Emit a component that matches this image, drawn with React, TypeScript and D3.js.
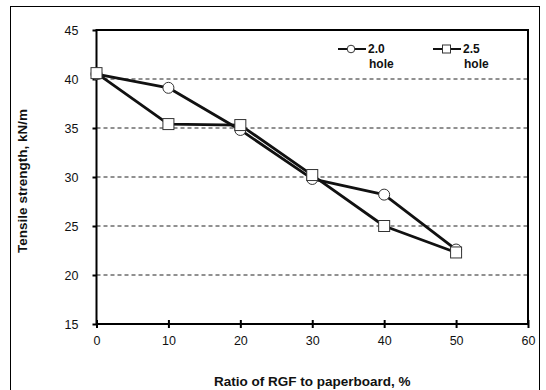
import { useEffect, useRef } from "react";
import * as d3 from "d3";

const ratios = [0, 10, 20, 30, 40, 50];
const hole20 = [40.5, 39.1, 34.8, 29.8, 28.2, 22.6];
const hole25 = [40.6, 35.4, 35.3, 30.2, 25.0, 22.3];
const xTicks = [0, 10, 20, 30, 40, 50, 60];
const yTicks = [15, 20, 25, 30, 35, 40, 45];
const gridValues = [20, 25, 30, 35, 40];

const App = () => {
  const ref = useRef<SVGSVGElement | null>(null);

  useEffect(() => {
    const width = 546;
    const height = 390;
    const left = 96.5;
    const right = 528;
    const top = 30;
    const bottom = 324;
    const font = "Arial, 'Liberation Sans', sans-serif";

    const svg = d3.select(ref.current).attr("width", width).attr("height", height);
    svg.selectAll("*").remove();

    svg
      .append("rect")
      .attr("width", width)
      .attr("height", height)
      .attr("fill", "#fff");

    // outer frame
    svg
      .append("rect")
      .attr("x", 10.5)
      .attr("y", 6.5)
      .attr("width", 529)
      .attr("height", 400)
      .attr("fill", "none")
      .attr("stroke", "#000")
      .attr("stroke-width", 1);

    const x = d3.scaleLinear().domain([0, 60]).range([left, right]);
    const y = d3.scaleLinear().domain([15, 45]).range([bottom, top]);

    // dashed grid
    svg
      .selectAll("line.grid")
      .data(gridValues)
      .enter()
      .append("line")
      .attr("class", "grid")
      .attr("x1", left)
      .attr("x2", right)
      .attr("y1", (d) => y(d))
      .attr("y2", (d) => y(d))
      .attr("stroke", "#222")
      .attr("stroke-width", 1)
      .attr("stroke-dasharray", "4,3");

    // plot border
    svg
      .append("rect")
      .attr("x", left)
      .attr("y", top)
      .attr("width", right - left)
      .attr("height", bottom - top)
      .attr("fill", "none")
      .attr("stroke", "#000")
      .attr("stroke-width", 2);

    // x axis
    const xAxis = d3
      .axisBottom(x)
      .tickValues(xTicks)
      .tickSizeInner(4)
      .tickSizeOuter(0)
      .tickPadding(8)
      .tickFormat((d) => String(d));
    const gx = svg.append("g").attr("transform", `translate(0,${bottom})`).call(xAxis);
    gx.select(".domain").remove();
    gx.selectAll("line").attr("stroke", "#000").attr("stroke-width", 2).attr("y1", -4);
    gx.selectAll("text")
      .attr("font-family", font)
      .attr("font-size", 12.5)
      .attr("fill", "#111");

    // y axis
    const yAxis = d3
      .axisLeft(y)
      .tickValues(yTicks)
      .tickSizeInner(4)
      .tickSizeOuter(0)
      .tickPadding(14)
      .tickFormat((d) => String(d));
    const gy = svg.append("g").attr("transform", `translate(${left},0)`).call(yAxis);
    gy.select(".domain").remove();
    gy.selectAll("line").attr("stroke", "#000").attr("stroke-width", 2);
    gy.selectAll("text")
      .attr("font-family", font)
      .attr("font-size", 12.5)
      .attr("fill", "#111");

    // axis titles
    svg
      .append("text")
      .attr("x", (left + right) / 2)
      .attr("y", 386)
      .attr("text-anchor", "middle")
      .attr("font-family", font)
      .attr("font-weight", "bold")
      .attr("font-size", 13.5)
      .attr("fill", "#111")
      .text("Ratio of RGF to paperboard, %");

    svg
      .append("text")
      .attr("transform", `translate(27,${(top + bottom) / 2 + 4}) rotate(-90)`)
      .attr("text-anchor", "middle")
      .attr("font-family", font)
      .attr("font-weight", "bold")
      .attr("font-size", 13.5)
      .attr("fill", "#111")
      .text("Tensile strength, kN/m");

    const line = d3
      .line<number>()
      .x((d, i) => x(ratios[i]))
      .y((d) => y(d));

    const plotSeries = (values: number[]) =>
      svg
        .append("path")
        .datum(values)
        .attr("d", line)
        .attr("fill", "none")
        .attr("stroke", "#111")
        .attr("stroke-width", 2.8)
        .attr("stroke-linejoin", "round");

    plotSeries(hole20);
    plotSeries(hole25);

    // circles (2.0 hole)
    svg
      .selectAll("circle.h20")
      .data(hole20)
      .enter()
      .append("circle")
      .attr("class", "h20")
      .attr("cx", (d, i) => x(ratios[i]))
      .attr("cy", (d) => y(d))
      .attr("r", 5.5)
      .attr("fill", "#fff")
      .attr("stroke", "#333")
      .attr("stroke-width", 1);

    // squares (2.5 hole)
    const s = 11;
    svg
      .selectAll("rect.h25")
      .data(hole25)
      .enter()
      .append("rect")
      .attr("class", "h25")
      .attr("x", (d, i) => x(ratios[i]) - s / 2)
      .attr("y", (d) => y(d) - s / 2)
      .attr("width", s)
      .attr("height", s)
      .attr("fill", "#fff")
      .attr("stroke", "#333")
      .attr("stroke-width", 1);

    // legend
    const lg = svg.append("g").attr("font-family", font).attr("font-weight", "bold").attr("font-size", 12).attr("fill", "#111");
    const legendY = 49;
    const items = [
      { label: "2.0", x0: 338, shape: "circle" },
      { label: "2.5", x0: 433, shape: "square" },
    ];
    items.forEach((it) => {
      lg.append("line")
        .attr("x1", it.x0)
        .attr("x2", it.x0 + 28)
        .attr("y1", legendY)
        .attr("y2", legendY)
        .attr("stroke", "#111")
        .attr("stroke-width", 2);
      if (it.shape === "circle") {
        lg.append("circle")
          .attr("cx", it.x0 + 13)
          .attr("cy", legendY)
          .attr("r", 3.8)
          .attr("fill", "#fff")
          .attr("stroke", "#333")
          .attr("stroke-width", 1);
      } else {
        lg.append("rect")
          .attr("x", it.x0 + 9.5)
          .attr("y", legendY - 4)
          .attr("width", 8)
          .attr("height", 8)
          .attr("fill", "#fff")
          .attr("stroke", "#333")
          .attr("stroke-width", 1);
      }
      lg.append("text").attr("x", it.x0 + 30).attr("y", legendY + 4).text(it.label);
      lg.append("text").attr("x", it.x0 + 31).attr("y", legendY + 19).text("hole");
    });
  }, []);

  return (
    <div style={{ position: "absolute", left: 0, top: 0 }}>
      <svg ref={ref}></svg>
    </div>
  );
};

export default App;
